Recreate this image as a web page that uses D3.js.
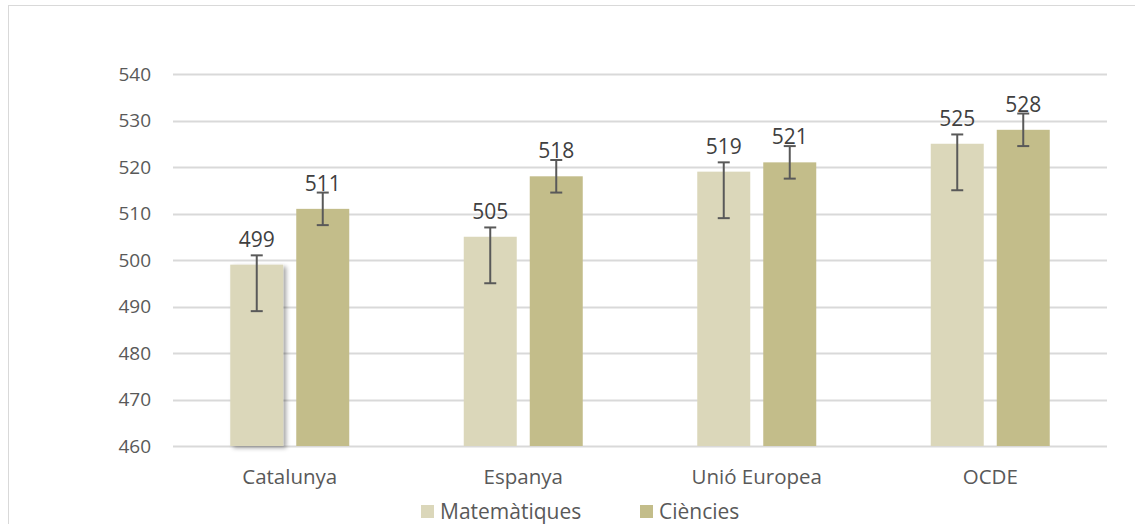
<!DOCTYPE html>
<html><head><meta charset="utf-8">
<script src="https://cdn.jsdelivr.net/npm/d3@7"></script>
<style>
html,body{margin:0;padding:0;background:#fff;}
svg text{font-family:"Open Sans",sans-serif;}
</style></head>
<body><svg id="c" width="1135" height="524"></svg>
<script>
const categories = ["Catalunya", "Espanya", "Unió Europea", "OCDE"];
const seriesNames = ["Matemàtiques", "Ciències"];
const mathValues = [499, 505, 519, 525];
const sciValues = [511, 518, 521, 528];
const mathLow = [489, 495, 509, 515];
const mathHigh = [501, 507, 521, 527];
const sciLow = [507.5, 514.5, 517.5, 524.5];
const sciHigh = [514.5, 521.5, 524.5, 531.5];
const yTicks = [460, 470, 480, 490, 500, 510, 520, 530, 540];
const colors = ["#DBD7BA", "#C3BD8A"];

const svg = d3.select("#c");
svg.append("rect").attr("x", 8.5).attr("y", 5.5).attr("width", 1140).attr("height", 530)
  .attr("fill", "none").attr("stroke", "#D9D9D9").attr("stroke-width", 1);

const defs = svg.append("defs");
const f = defs.append("filter").attr("id", "sh").attr("x", "-20%").attr("y", "-5%").attr("width", "140%").attr("height", "115%");
f.append("feDropShadow").attr("dx", 3).attr("dy", 2).attr("stdDeviation", 2).attr("flood-color", "#000").attr("flood-opacity", 0.35);

const x = d3.scaleBand().domain(categories).range([173, 1107]);
const y = d3.scaleLinear().domain([460, 540]).range([446, 74]);
const inner = d3.scaleBand().domain(seriesNames).range([0, 119]).paddingInner(13/66);

svg.append("g").selectAll("line").data(yTicks).join("line")
  .attr("x1", 173).attr("x2", 1107)
  .attr("y1", d => Math.round(y(d)) + 0.5).attr("y2", d => Math.round(y(d)) + 0.5)
  .attr("stroke", "#D9D9D9").attr("stroke-width", 2);

svg.append("g").selectAll("text").data(yTicks).join("text")
  .attr("x", 151).attr("y", d => y(d)).attr("dy", "0.35em").attr("text-anchor", "end")
  .attr("font-size", 19).attr("fill", "#595959").text(d => d);

svg.append("g").selectAll("text").data(categories).join("text")
  .attr("x", d => x(d) + x.bandwidth() / 2).attr("y", 477).attr("dy", "0.35em")
  .attr("text-anchor", "middle").attr("font-size", 20.5).attr("fill", "#595959").text(d => d);

const series = [
  {name: seriesNames[0], vals: mathValues, lo: mathLow, hi: mathHigh, color: colors[0]},
  {name: seriesNames[1], vals: sciValues, lo: sciLow, hi: sciHigh, color: colors[1]}
];

series.forEach(s => {
  const g = svg.append("g");
  const data = categories.map((c, i) => ({c, v: s.vals[i], lo: s.lo[i], hi: s.hi[i], i}));
  const bx = d => x(d.c) + (x.bandwidth() - 119) / 2 + inner(s.name);
  g.selectAll("rect").data(data).join("rect")
    .attr("x", bx).attr("y", d => y(d.v)).attr("width", inner.bandwidth())
    .attr("height", d => y(460) - y(d.v)).attr("fill", s.color)
    .attr("filter", d => (s.name === seriesNames[0] && d.i === 0) ? "url(#sh)" : null);
  const cx = d => bx(d) + inner.bandwidth() / 2;
  g.selectAll("text").data(data).join("text")
    .attr("x", cx).attr("y", d => y(d.v) - 18).attr("text-anchor", "middle")
    .attr("font-size", 21).attr("fill", "#404040").text(d => d.v);
  g.selectAll("line.v").data(data).join("line").attr("class", "v")
    .attr("x1", cx).attr("x2", cx).attr("y1", d => y(d.hi)).attr("y2", d => y(d.lo))
    .attr("stroke", "#595959").attr("stroke-width", 2);
  ["hi", "lo"].forEach(k => {
    g.selectAll("line." + k).data(data).join("line").attr("class", k)
      .attr("x1", d => cx(d) - 6).attr("x2", d => cx(d) + 6)
      .attr("y1", d => y(d[k])).attr("y2", d => y(d[k]))
      .attr("stroke", "#595959").attr("stroke-width", 2);
  });
});

const leg = svg.append("g");
const legX = [421, 640];
series.forEach((s, i) => {
  leg.append("rect").attr("x", legX[i]).attr("y", 505).attr("width", 13).attr("height", 13).attr("fill", s.color);
  leg.append("text").attr("x", legX[i] + 19).attr("y", 511.5).attr("dy", "0.35em")
    .attr("font-size", 21).attr("fill", "#595959").text(s.name);
});
</script></body></html>
